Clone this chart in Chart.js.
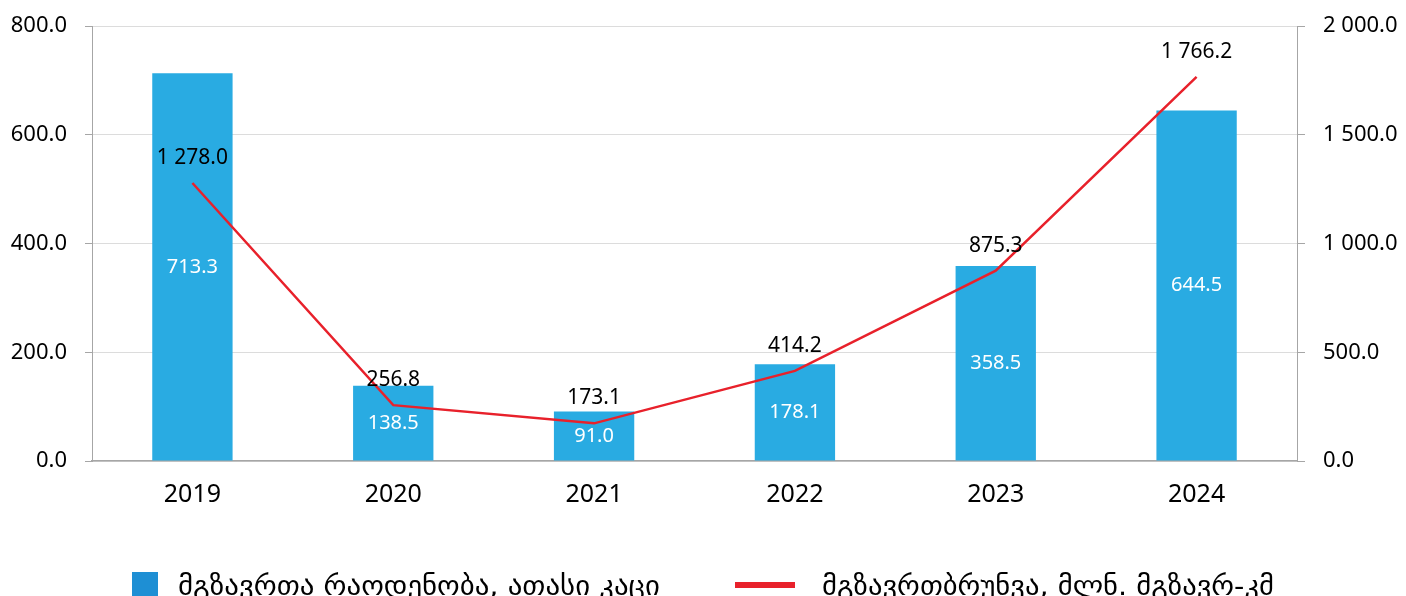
<!DOCTYPE html>
<html>
<head>
<meta charset="utf-8">
<script src="https://cdn.jsdelivr.net/npm/chart.js@4.4.1/dist/chart.umd.min.js"></script>
<style>
  html, body { margin: 0; padding: 0; background: #fff; overflow: hidden; }
  #wrap { position: relative; width: 1406px; height: 596px; }
  #legend {
    position: absolute; left: 0; top: 571px; width: 1406px; height: 40px;
    font-family: "DejaVu Sans", sans-serif; font-size: 27px; color: #000;
  }
  .item { position: absolute; top: 0; display: flex; align-items: center; height: 28px; white-space: nowrap; }
  .box { width: 26px; height: 26px; background: #1e8fd4; margin-right: 20px; flex: none; }
  .ln { width: 60px; height: 6px; background: #e8212b; margin-right: 27px; flex: none; }
  .txt { display: inline-block; transform-origin: left center; }
</style>
</head>
<body>
<div id="wrap">
  <canvas id="chart" width="1406" height="596"></canvas>
  <div id="legend">
    <div class="item" style="left:132px"><span class="box"></span><span class="txt" data-w="482">მგზავრთა რაოდენობა, ათასი კაცი</span></div>
    <div class="item" style="left:735px"><span class="ln"></span><span class="txt" data-w="452">მგზავრთბრუნვა, მლნ. მგზავრ-კმ</span></div>
  </div>
</div>
<script>
let years = ["2019", "2020", "2021", "2022", "2023", "2024"];
let passengers = [713.3, 138.5, 91.0, 178.1, 358.5, 644.5];
let turnover = [1278.0, 256.8, 173.1, 414.2, 875.3, 1766.2];
let leftTicks = [0, 200, 400, 600, 800];
let rightTicks = [0, 500, 1000, 1500, 2000];

// stretch the legend text to the reference width
document.querySelectorAll(".txt").forEach((el) => {
  let w = el.getBoundingClientRect().width;
  el.style.transform = `scaleX(${Number(el.dataset.w) / w})`;
});

function fmt(v) {
  let parts = Number(v).toFixed(1).split(".");
  parts[0] = parts[0].replace(/\B(?=(\d{3})+(?!\d))/g, " ");
  return parts.join(".");
}

let valueLabels = {
  id: "valueLabels",
  afterDatasetsDraw(chart) {
    let ctx = chart.ctx;
    ctx.save();
    ctx.textAlign = "center";
    ctx.textBaseline = "middle";

    let barMeta = chart.getDatasetMeta(1);
    ctx.fillStyle = "#ffffff";
    ctx.font = "20px 'Noto Sans'";
    barMeta.data.forEach((bar, i) => {
      ctx.fillText(fmt(passengers[i]), bar.x, (bar.y + bar.base) / 2);
    });

    let lineMeta = chart.getDatasetMeta(0);
    ctx.fillStyle = "#000000";
    ctx.font = "21px 'Noto Sans'";
    lineMeta.data.forEach((pt, i) => {
      ctx.fillText(fmt(turnover[i]), pt.x, pt.y - 25);
    });
    ctx.restore();
  },
};

function fixY(width) {
  return (scale) => {
    scale.width = width;
    scale.paddingTop = 0;
    scale.paddingBottom = 0;
  };
}

new Chart(document.getElementById("chart"), {
  data: {
    labels: years,
    datasets: [
      {
        type: "line",
        label: "მგზავრთბრუნვა, მლნ. მგზავრ-კმ",
        data: turnover,
        yAxisID: "y1",
        borderColor: "#e8212b",
        backgroundColor: "#e8212b",
        borderWidth: 2.5,
        pointRadius: 0,
        tension: 0,
        order: 0,
      },
      {
        type: "bar",
        label: "მგზავრთა რაოდენობა, ათასი კაცი",
        data: passengers,
        yAxisID: "y",
        backgroundColor: "#29abe2",
        barPercentage: 0.4,
        categoryPercentage: 1,
        order: 1,
      },
    ],
  },
  options: {
    responsive: false,
    animation: false,
    layout: { padding: { top: 26, bottom: 0, left: 0, right: 0 } },
    plugins: {
      legend: { display: false },
      tooltip: { enabled: false },
    },
    scales: {
      x: {
        grid: { display: false },
        border: { color: "#a6a6a6", width: 1.5 },
        ticks: { color: "#000", font: { family: "Noto Sans", size: 25 }, padding: 11 },
        afterFit(scale) { scale.height = 135; },
      },
      y: {
        position: "left",
        min: 0,
        max: 800,
        afterBuildTicks(scale) { scale.ticks = leftTicks.map((v) => ({ value: v })); },
        grid: { color: "#dcdcdc", tickColor: "#a6a6a6", tickLength: 7 },
        border: { color: "#a6a6a6", width: 1 },
        ticks: { color: "#000", font: { family: "Noto Sans", size: 22 }, padding: 18, callback: (v) => fmt(v) },
        afterFit: fixY(92),
      },
      y1: {
        position: "right",
        min: 0,
        max: 2000,
        afterBuildTicks(scale) { scale.ticks = rightTicks.map((v) => ({ value: v })); },
        grid: { drawOnChartArea: false, tickColor: "#a6a6a6", tickLength: 8 },
        border: { color: "#a6a6a6", width: 1 },
        ticks: { color: "#000", font: { family: "Noto Sans", size: 22 }, padding: 18, callback: (v) => fmt(v) },
        afterFit: fixY(109),
      },
    },
  },
  plugins: [valueLabels],
});
</script>
</body>
</html>
